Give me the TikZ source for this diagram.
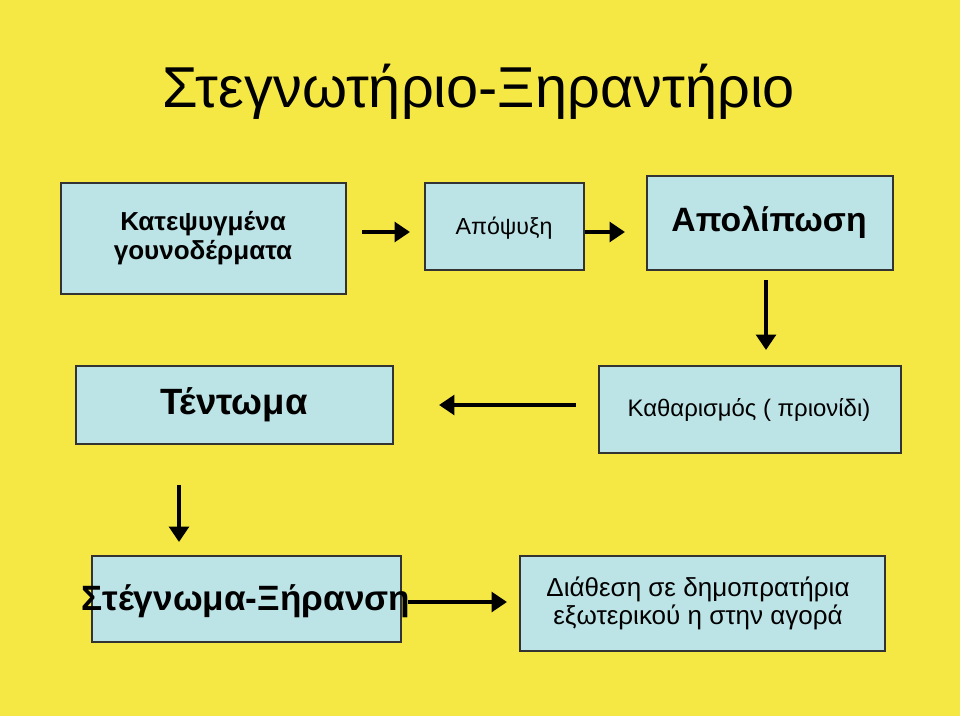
\documentclass[tikz,border=0pt]{standalone}
\usepackage{fontspec}
\setmainfont{Liberation Sans}
\usetikzlibrary{arrows.meta}
\definecolor{bgyellow}{HTML}{F5E845}
\definecolor{boxblue}{HTML}{BCE3E6}

\begin{document}
\begin{tikzpicture}[
    x=0.025cm, y=-0.025cm,
    stage/.style={draw=black!80, fill=boxblue, line width=0.8pt},
    flow/.style={line width=3pt, -{Triangle[length=11pt,width=14pt]}}
]
    % background
    \fill[bgyellow] (0,0) rectangle (960,716);
    \node[anchor=west, font=\fontsize{41}{48}\selectfont] (title) at (158,92) {Στεγνωτήριο-Ξηραντήριο};

    % boxes
    \draw[stage] (61,183) rectangle (346,294);
    \node[align=center, font=\fontsize{18.5}{21}\selectfont\bfseries] (frozen) at (203,238) {Κατεψυγμένα\\γουνοδέρματα};
    \draw[stage] (425,183) rectangle (584,270);
    \node[font=\fontsize{16.5}{19}\selectfont] (thaw) at (504,228) {Απόψυξη};
    \draw[stage] (647,176) rectangle (893,270);
    \node[font=\fontsize{24}{28}\selectfont\bfseries] (degrease) at (769,222) {Απολίπωση};
    \draw[stage] (76,366) rectangle (393,444);
    \node[font=\fontsize{26}{30}\selectfont\bfseries] (stretch) at (234,405) {Τέντωμα};
    \draw[stage] (599,366) rectangle (901,453);
    \node[font=\fontsize{17}{20}\selectfont] (clean) at (749,410) {Καθαρισμός ( πριονίδι)};
    \draw[stage] (92,556) rectangle (401,642);
    \node[font=\fontsize{25}{29}\selectfont\bfseries] (dry) at (246,601) {Στέγνωμα-Ξήρανση};
    \draw[stage] (520,556) rectangle (885,651);
    \node[align=center, font=\fontsize{18.5}{20}\selectfont] (market) at (698,603) {Διάθεση σε δημοπρατήρια\\εξωτερικού η στην αγορά};

    % arrow ends
    \coordinate (a1) at (362,232); \coordinate (b1) at (410,232);
    \coordinate (a2) at (585,232); \coordinate (b2) at (625,232);
    \coordinate (a3) at (766,280); \coordinate (b3) at (766,350);
    \coordinate (a4) at (576,405); \coordinate (b4) at (439,405);
    \coordinate (a5) at (179,485); \coordinate (b5) at (179,542);
    \coordinate (a6) at (408,602); \coordinate (b6) at (507,602);

    \foreach \i in {1,...,6}
        \draw[flow] (a\i) -- (b\i);
\end{tikzpicture}
\end{document}
